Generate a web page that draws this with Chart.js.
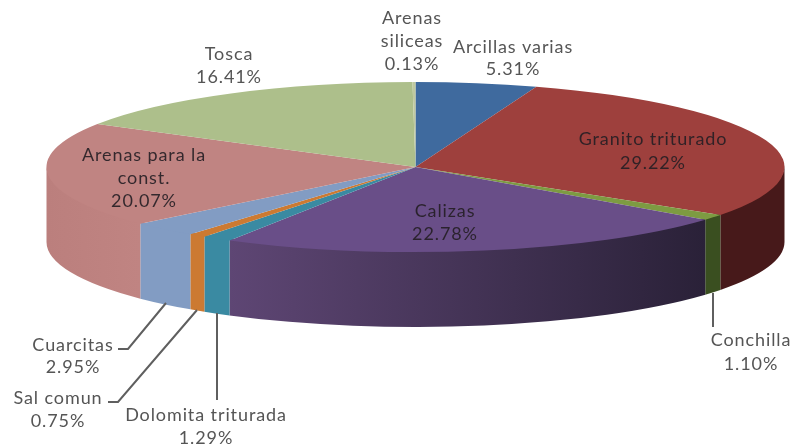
<!DOCTYPE html>
<html>
<head>
<meta charset="utf-8">
<style>
html,body{margin:0;padding:0;background:#fff}
canvas{display:block;filter:blur(0.7px)}
</style>
<script src="https://cdn.jsdelivr.net/npm/chart.js@4"></script>
</head>
<body>
<canvas id="c" width="795" height="446"></canvas>
<script>
const categories = ["Arcillas varias","Granito triturado","Conchilla","Calizas","Dolomita triturada","Sal comun","Cuarcitas","Arenas para la const.","Tosca","Arenas siliceas"];
const values = [5.31,29.22,1.10,22.78,1.29,0.75,2.95,20.07,16.41,0.13];
const topColors = ["#3F6A9E","#9E403D","#7D9B42","#694E88","#3A8AA2","#CC7A32","#829CC3","#C08482","#ADBF8B","#BFC9A0"];
const sideColors = [null,["#47191A","#47191A"],["#3A4F20","#3A4F20"],["#5E4674","#2A2138"],["#3A8AA2","#3A8AA2"],["#CC7A32","#CC7A32"],["#829CC3","#829CC3"],["#BB7F7D","#C08482"],null,null];

const labelLines = [
  {lines:["Arcillas varias","5.31%"],x:513,y:[47,69],on:false},
  {lines:["Granito triturado","29.22%"],x:653,y:[139,163],on:true},
  {lines:["Conchilla","1.10%"],x:751,y:[340,364],on:false},
  {lines:["Calizas","22.78%"],x:445,y:[211,234],on:true},
  {lines:["Dolomita triturada","1.29%"],x:206,y:[415,438],on:false},
  {lines:["Sal comun","0.75%"],x:58,y:[398,421],on:false},
  {lines:["Cuarcitas","2.95%"],x:73,y:[345,367],on:false},
  {lines:["Arenas para la","const.","20.07%"],x:144,y:[155,178,201],on:true},
  {lines:["Tosca","16.41%"],x:229,y:[54,77],on:false},
  {lines:["Arenas","siliceas","0.13%"],x:412,y:[18,41,64],on:false}
];
const leaders = [
  [[713,293],[713,327]],
  [[217,313],[217,400]],
  [[197,310],[118,402],[108,402]],
  [[166,303],[128,349],[118,349]]
];

const view = {cx:415.5, cy:167, rx:369, ry:85, depth:75, overlap:2};

const pie3d = {
  id:'pie3d',
  beforeDatasetsDraw(chart){
    const ctx = chart.ctx, arcs = chart.getDatasetMeta(0).data;
    const {cx,cy,rx,ry,depth,overlap} = view;
    arcs.forEach((arc,i)=>{
      const sc = sideColors[i];
      if(!sc) return;
      const a0 = Math.max(arc.startAngle,0), a1 = Math.min(arc.endAngle,Math.PI);
      if(a1<=a0) return;
      const x0 = cx+rx*Math.cos(a1), x1 = cx+rx*Math.cos(a0);
      const g = ctx.createLinearGradient(x0,0,x1,0);
      g.addColorStop(0,sc[0]); g.addColorStop(1,sc[1]);
      ctx.beginPath();
      ctx.ellipse(cx,cy-overlap,rx,ry,0,a0,a1);
      ctx.ellipse(cx,cy+depth,rx,ry,0,a1,a0,true);
      ctx.closePath();
      ctx.fillStyle = g; ctx.fill();
    });
    const a = arcs[0], k = 1/a.outerRadius;
    ctx.save();
    ctx.translate(cx,cy);
    ctx.scale(rx*k,ry*k);
    ctx.translate(-a.x,-a.y);
  },
  afterDatasetsDraw(chart){
    chart.ctx.restore();
  },
  afterDraw(chart){
    const ctx = chart.ctx;
    ctx.save();
    ctx.strokeStyle = '#5f5f5f'; ctx.lineWidth = 2;
    leaders.forEach(l=>{
      ctx.beginPath();
      l.forEach((p,i)=> i?ctx.lineTo(p[0],p[1]):ctx.moveTo(p[0],p[1]));
      ctx.stroke();
    });
    ctx.font = '18px Lato';
    ctx.letterSpacing = '0.9px';
    ctx.textAlign = 'center'; ctx.textBaseline = 'middle';
    labelLines.forEach(l=>{
      ctx.fillStyle = l.on ? 'rgba(35,30,35,0.9)' : '#555555';
      l.lines.forEach((t,i)=>ctx.fillText(t,l.x,l.y[i]));
    });
    ctx.restore();
  }
};

new Chart(document.getElementById('c'),{
  type:'pie',
  data:{labels:categories,datasets:[{data:values,backgroundColor:topColors,borderWidth:0,clip:false}]},
  options:{
    responsive:false,animation:false,
    layout:{padding:0},
    plugins:{legend:{display:false},tooltip:{enabled:false},title:{display:false}}
  },
  plugins:[pie3d]
});
</script>
</body>
</html>
